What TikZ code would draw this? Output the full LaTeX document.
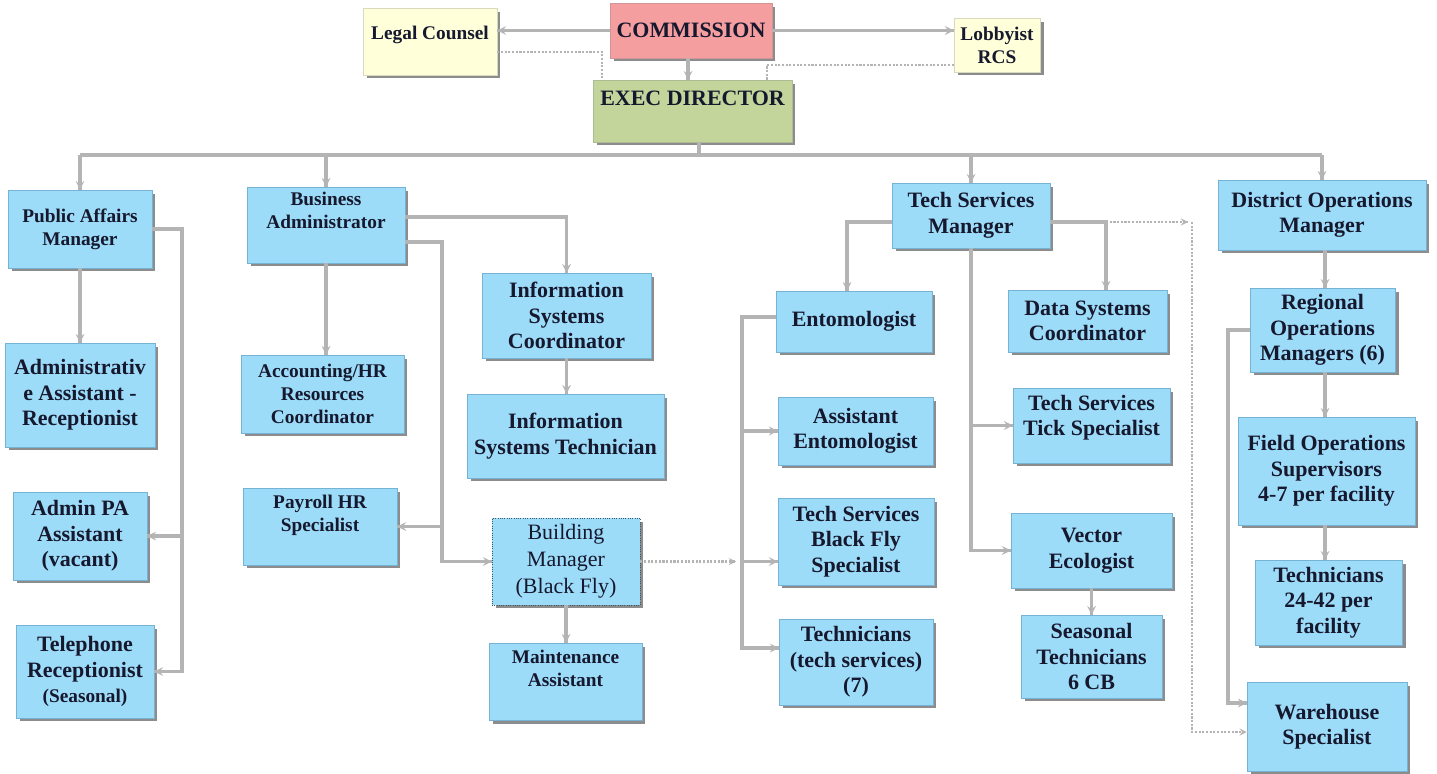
\documentclass[tikz,border=0pt]{standalone}
\usepackage{fontspec}
\setmainfont{Liberation Serif}
\usetikzlibrary{positioning,shadows,decorations.markings}
\tikzset{->/.style = {decoration={markings, mark=at position 1 with {\arrow[scale=.75]{stealth}}}, postaction={decorate}}}
\definecolor{boxblue}{RGB}{157,220,249}
\definecolor{boxedge}{RGB}{118,178,212}
\definecolor{legalyellow}{RGB}{255,255,218}
\definecolor{compink}{RGB}{245,158,160}
\definecolor{execgreen}{RGB}{195,213,155}
\definecolor{linegray}{RGB}{180,180,180}
\definecolor{ink}{RGB}{22,24,46}
\newcommand{\boxfont}{\bfseries\fontsize{12.5}{14.5}\selectfont}
\newcommand{\headfont}{\bfseries\fontsize{11}{13}\selectfont}

\begin{document}
\begin{tikzpicture}[x=0.02cm, y=-0.02cm,
  box/.style={rectangle, fill=boxblue, draw=boxedge, line width=.3pt, inner sep=1pt, align=center, text=ink, font=\boxfont,
    drop shadow={shadow xshift=.07cm, shadow yshift=-.07cm, fill=black!60, opacity=.75}},
  txt/.style={align=center, text=ink, inner sep=0pt},
  conn/.style={linegray, line width=1.9pt},
  dotconn/.style={linegray, line width=1.4pt, dash pattern=on 1.2pt off .9pt}]
\useasboundingbox (0,0) rectangle (1437,774);

% top level
\node[box, fill=legalyellow, draw=legalyellow!70!gray, minimum width=2.68cm, minimum height=1.34cm] (legal) at (430,41.5) {};
\node[txt, font=\headfont, below=10.5pt of legal.north] (legal-t) {Legal Counsel};
\node[box, fill=compink, draw=compink!70!gray, minimum width=3.24cm, minimum height=1.10cm] (com) at (691,30.5) {COMMISSION};
\node[box, fill=legalyellow, draw=legalyellow!70!gray, font=\headfont, minimum width=1.72cm, minimum height=1.08cm] (lobby) at (997,45) {Lobbyist\\RCS};
\node[box, fill=execgreen, draw=execgreen!70!gray, minimum width=3.98cm, minimum height=1.24cm] (exec) at (692.5,111) {};
\node[txt, font=\boxfont, below=6pt of exec.north] (exec-t) {EXEC DIRECTOR};

% managers
\node[box, font=\headfont, minimum width=2.88cm, minimum height=1.56cm] (pam) at (80,229) {Public Affairs\\Manager};
\node[box, minimum width=3.16cm, minimum height=1.52cm] (ba) at (326,225) {};
\node[txt, font=\headfont, below=3pt of ba.north] (ba-t) {Business\\Administrator};
\node[box, minimum width=3.16cm, minimum height=1.30cm] (tsm) at (971,215.5) {Tech Services\\Manager};
\node[box, minimum width=4.16cm, minimum height=1.40cm] (dom) at (1322,215) {District Operations\\Manager};

% public affairs
\node[box, minimum width=3.00cm, minimum height=2.08cm] (aa) at (80,395) {Administrativ\\e Assistant -\\Receptionist};
\node[box, minimum width=2.68cm, minimum height=1.76cm] (apa) at (80,536) {Admin PA\\Assistant\\(vacant)};
\node[box, minimum width=2.76cm, minimum height=1.86cm] (tel) at (85,671.5) {Telephone\\Receptionist\\{\headfont(Seasonal)}};

% business admin
\node[box, font=\headfont, minimum width=3.26cm, minimum height=1.56cm] (acc) at (322.5,394) {Accounting/HR\\Resources\\Coordinator};
\node[box, minimum width=3.08cm, minimum height=1.54cm] (pay) at (320,526.5) {};
\node[txt, font=\headfont, below=4pt of pay.north] (pay-t) {Payroll HR\\Specialist};
\node[box, minimum width=3.38cm, minimum height=1.70cm] (isc) at (566.5,315.5) {Information\\Systems\\Coordinator};
\node[box, minimum width=3.94cm, minimum height=1.68cm] (ist) at (565.5,436) {Information\\Systems Technician};
\node[box, draw=boxedge!50!black, densely dotted, font=\fontsize{12.5}{15.3}\selectfont, minimum width=2.96cm, minimum height=1.74cm] (bm) at (566,561.5) {Building\\Manager\\(Black Fly)};
\node[box, minimum width=3.06cm, minimum height=1.54cm] (ma) at (565.5,681.5) {};
\node[txt, font=\headfont, below=4pt of ma.north] (ma-t) {Maintenance\\Assistant};

% tech services
\node[box, minimum width=3.12cm, minimum height=1.22cm] (ento) at (854,321.5) {Entomologist};
\node[box, minimum width=3.10cm, minimum height=1.36cm] (aento) at (855.5,431) {Assistant\\Entomologist};
\node[box, minimum width=3.12cm, minimum height=1.74cm] (tsbf) at (856,541.5) {Tech Services\\Black Fly\\Specialist};
\node[box, minimum width=3.08cm, minimum height=1.72cm] (techs) at (856,662) {Technicians\\(tech services)\\(7)};
\node[box, minimum width=3.18cm, minimum height=1.24cm] (dsc) at (1087.5,321) {Data Systems\\Coordinator};
\node[box, minimum width=3.14cm, minimum height=1.50cm] (tick) at (1091.5,425.5) {};
\node[txt, font=\boxfont, below=4pt of tick.north] (tick-t) {Tech Services\\Tick Specialist};
\node[box, minimum width=3.22cm, minimum height=1.50cm] (vec) at (1091.5,550.5) {Vector\\Ecologist};
\node[box, minimum width=2.82cm, minimum height=1.66cm] (sea) at (1091.5,656.5) {Seasonal\\Technicians\\6 CB};

% district operations
\node[box, minimum width=2.90cm, minimum height=1.68cm] (rom) at (1322.5,330) {Regional\\Operations\\Managers (6)};
\node[box, minimum width=3.54cm, minimum height=2.16cm] (fos) at (1326.5,471) {Field Operations\\Supervisors\\4-7 per facility};
\node[box, minimum width=2.94cm, minimum height=1.70cm] (t24) at (1328.5,602.5) {Technicians\\24-42 per\\facility};
\node[box, minimum width=3.20cm, minimum height=1.78cm] (wh) at (1327,726.5) {Warehouse\\Specialist};

% connectors at the top
\draw[conn,->] (com.west) -- (com.west -| legal.east);
\draw[conn,->] (com.east) -- (com.east -| lobby.west);
\draw[conn,->] (688,0 |- com.south) -- (688,0 |- exec.north);
\draw[dotconn] (legal.east |- 0,52) -| (602,0 |- exec.north);
\draw[dotconn] (lobby.west |- 0,65) -| (767,0 |- exec.north);
\draw[conn] (699,0 |- exec.south) -- (699,155);
\draw[conn] (pam.north |- 0,155) -- (dom.north |- 0,155);
\foreach \n in {pam,ba,tsm,dom}
  \draw[conn,->] (\n.north |- 0,155) -- (\n.north);

% public affairs
\coordinate (pav) at (182,0);
\draw[conn,->] (pam.south) -- (pam.south |- aa.north);
\draw[conn,->] (pam.east) -- (pam.east -| pav) |- (tel.east);
\draw[conn,->] (pav |- apa.east) -- (apa.east);

% business admin
\coordinate (bav) at (442,0);
\draw[conn,->] (ba.south) -- (ba.south |- acc.north);
\draw[conn,->] (ba.east |- 0,217) -| (isc.north);
\draw[conn,->] (ba.east |- 0,242) -| (bav |- bm.west) -- (bm.west);
\draw[conn,->] (bav |- pay.east) -- (pay.east);
\draw[conn,->] (isc.south) -- (isc.south |- ist.north);
\draw[conn,->] (bm.south) -- (bm.south |- ma.north);
\draw[dotconn,->] (bm.east) -- (736,0 |- bm.east);

% tech services
\coordinate (tsv) at (742,0);
\coordinate (dv) at (1192,0);
\draw[conn,->] (tsm.west |- 0,222) -| (847,0 |- ento.north);
\draw[conn,->] (ento.west |- 0,317) -| (tsv |- 0,648) -- (techs.west |- 0,648);
\draw[conn,->] (tsv |- aento.west) -- (aento.west);
\draw[conn,->] (tsv |- bm.east) -- (tsbf.west |- bm.east);
\draw[conn,->] (tsm.east |- 0,222) -| (1106,0 |- dsc.north);
\draw[dotconn,->] (1106,222) -- (1188,222);
\draw[dotconn,->] (dv |- 0,222) -- (dv |- 0,732) -- (wh.west |- 0,732);
\draw[conn,->] (tsm.south) -- (tsm.south |- vec.west) -- (vec.west);
\draw[conn,->] (tsm.south |- tick.west) -- (tick.west);
\draw[conn,->] (vec.south) -- (vec.south |- sea.north);

% district operations
\coordinate (dmx) at (1325,0);
\draw[conn,->] (dmx |- dom.south) -- (dmx |- rom.north);
\draw[conn,->] (dmx |- rom.south) -- (dmx |- fos.north);
\draw[conn,->] (dmx |- fos.south) -- (dmx |- t24.north);
\draw[conn,->] (rom.west) -- (1228,0 |- rom.west) |- (wh.west |- 0,703);
\end{tikzpicture}
\end{document}
